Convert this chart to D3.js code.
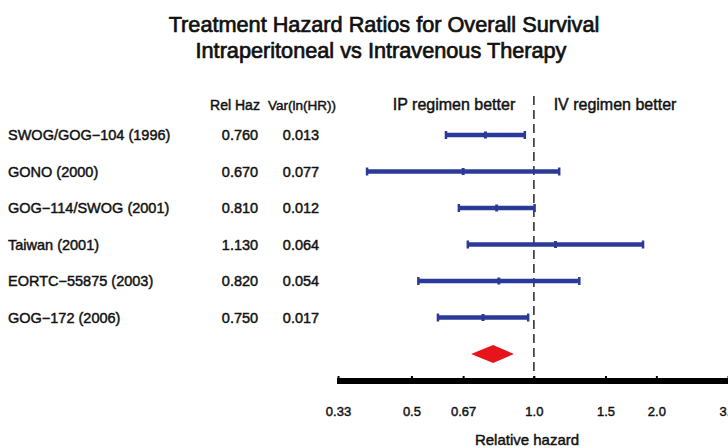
<!DOCTYPE html>
<html><head><meta charset="utf-8">
<script src="https://cdn.jsdelivr.net/npm/d3@7"></script>
<style>
body{margin:0;background:#fff;}
svg{display:block;font-family:"Liberation Sans",Arial,sans-serif;}
.t{fill:#111;stroke:#111;stroke-width:0.45px;}
.tt{fill:#111;stroke:#111;stroke-width:0.7px;}
</style></head>
<body><svg id="c" width="728" height="448"></svg>
<script>
const studies = ["SWOG/GOG\u2212104 (1996)","GONO (2000)","GOG\u2212114/SWOG (2001)","Taiwan (2001)","EORTC\u221255875 (2003)","GOG\u2212172 (2006)"];
const relHaz = [0.760, 0.670, 0.810, 1.130, 0.820, 0.750];
const varLnHR = [0.013, 0.077, 0.012, 0.064, 0.054, 0.017];
const ciLower = [0.608, 0.389, 0.654, 0.688, 0.520, 0.581];
const ciUpper = [0.950, 1.154, 1.004, 1.855, 1.293, 0.968];
const pooled = {est: 0.794, lower: 0.701, upper: 0.893};
const tickVals = [0.33, 0.5, 0.67, 1.0, 1.5, 2.0, 3.0];
const tickLabels = ["0.33","0.5","0.67","1.0","1.5","2.0","3.0"];

const svg = d3.select("#c");
const x = d3.scaleLog().domain([0.33, 3.0]).range([338, 728]);
const rows = d3.range(studies.length + 1);
const y = d3.scalePoint().domain(rows).range([135, 354]);
const blue = "#2b3a98";

// Title
svg.append("text").attr("class","tt").attr("x", 384).attr("y", 32).attr("text-anchor","middle")
  .attr("font-size", 21.7).text("Treatment Hazard Ratios for Overall Survival");
svg.append("text").attr("class","tt").attr("x", 381).attr("y", 58).attr("text-anchor","middle")
  .attr("font-size", 21.7).text("Intraperitoneal vs Intravenous Therapy");

// Column headers
const hdrY = 110;
svg.append("text").attr("class","t").attr("x", 235).attr("y", hdrY).attr("text-anchor","middle").attr("font-size",14).text("Rel Haz");
svg.append("text").attr("class","t").attr("x", 302).attr("y", hdrY).attr("text-anchor","middle").attr("font-size",13.5).text("Var(ln(HR))");
svg.append("text").attr("class","t").attr("x", 454).attr("y", hdrY).attr("text-anchor","middle").attr("font-size",16).text("IP regimen better");
svg.append("text").attr("class","t").attr("x", 615).attr("y", hdrY).attr("text-anchor","middle").attr("font-size",16).text("IV regimen better");

// Reference line
svg.append("line").attr("x1", x(1)).attr("x2", x(1)).attr("y1", 96).attr("y2", 378)
  .attr("stroke","#333").attr("stroke-width",1.6).attr("stroke-dasharray","9,5");

// Row labels and values
const g = svg.append("g").attr("font-size",14.5);
studies.forEach((s,i)=>{
  const yy = y(i) + 5;
  g.append("text").attr("class","t").attr("x", 8).attr("y", yy).text(s);
  g.append("text").attr("class","t").attr("x", 240).attr("y", yy).attr("text-anchor","middle").text(relHaz[i].toFixed(3));
  g.append("text").attr("class","t").attr("x", 301).attr("y", yy).attr("text-anchor","middle").text(varLnHR[i].toFixed(3));
});

// Intervals
const ci = svg.append("g");
studies.forEach((s,i)=>{
  const yy = y(i);
  ci.append("line").attr("x1", x(ciLower[i])).attr("x2", x(ciUpper[i])).attr("y1", yy).attr("y2", yy)
    .attr("stroke", blue).attr("stroke-width", 4.5);
  [ciLower[i], ciUpper[i]].forEach(v=>{
    ci.append("line").attr("x1", x(v)).attr("x2", x(v)).attr("y1", yy-4).attr("y2", yy+4)
      .attr("stroke", blue).attr("stroke-width", 2.5);
  });
  ci.append("line").attr("x1", x(relHaz[i])).attr("x2", x(relHaz[i])).attr("y1", yy-3.5).attr("y2", yy+3.5)
    .attr("stroke", blue).attr("stroke-width", 3);
});

// Pooled diamond
const py = y(studies.length);
svg.append("path")
  .attr("d", `M${x(pooled.lower)},${py} L${x(pooled.est)},${py-9} L${x(pooled.upper)},${py} L${x(pooled.est)},${py+9} Z`)
  .attr("fill","#e8141b");

// Axis
const axisY = 381;
const ax = svg.append("g").attr("transform",`translate(0,${axisY})`)
  .call(d3.axisBottom(x).tickValues(tickVals).tickFormat((d,i)=>tickLabels[i]).tickSize(0).tickPadding(26));
ax.select(".domain").attr("stroke","#000").attr("stroke-width",6).attr("d",`M337,0H728`);
ax.selectAll(".tick text").attr("class","t").attr("font-size",13)
  .attr("font-family",'"Liberation Sans",Arial,sans-serif');
ax.selectAll(".tick").append("line").attr("y1",-5).attr("y2",0).attr("stroke","#000").attr("stroke-width",2);

svg.append("text").attr("class","t").attr("x", 527).attr("y", 445).attr("text-anchor","middle").attr("font-size",15)
  .text("Relative hazard");
</script>
</body></html>
